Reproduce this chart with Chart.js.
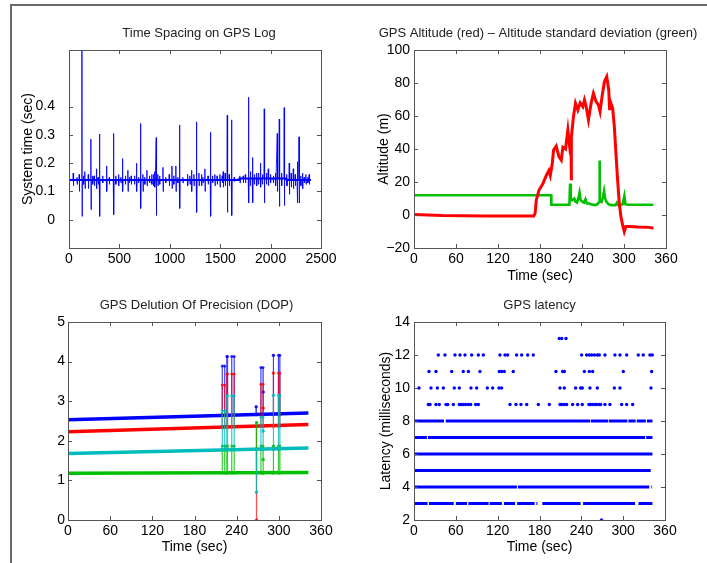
<!DOCTYPE html>
<html>
<head>
<meta charset="utf-8">
<script src="https://cdn.jsdelivr.net/npm/chart.js@4.4.0/dist/chart.umd.min.js"></script>
<style>
  body { margin: 0; background: #fff; }
  #wrap { position: relative; width: 707px; height: 563px; overflow: hidden; }
  #frame { position: absolute; left: 10px; top: 4px; width: 720px; height: 600px;
           border-top: 2px solid #6a6a6a; border-left: 2px solid #6a6a6a; }
  .panel { position: absolute; }
</style>
</head>
<body>
<div id="wrap">
  <div id="frame"></div>
  <div class="panel" style="left:0;top:0;width:353px;height:282px"><canvas id="c1"></canvas></div>
  <div class="panel" style="left:353px;top:0;width:354px;height:285px"><canvas id="c2"></canvas></div>
  <div class="panel" style="left:0;top:282px;width:353px;height:281px"><canvas id="c3"></canvas></div>
  <div class="panel" style="left:353px;top:282px;width:354px;height:281px"><canvas id="c4"></canvas></div>
</div>
<script>
// ---- panel 1: time spacing on GPS log ----
// baseline level of the log spacing (sample index, sec)
const spacingBaseline = [[0, 0.14], [1690, 0.14], [1695, 0.146], [2155, 0.146], [2160, 0.14], [2400, 0.14]];
// spikes: [sample, high, low]
const spacingSpikes = [
  [4, 0.58, 0.01], [43, 0.165, 0.12], [80, 0.15, 0.125], [102, 0.16, 0.10], [129, 0.75, 0.012], [145, 0.155, 0.125],
  [159, 0.17, 0.11], [192, 0.16, 0.11], [218, 0.285, 0.036], [235, 0.155, 0.125], [251, 0.155, 0.12],
  [274, 0.18, 0.11], [290, 0.15, 0.125], [304, 0.303, 0.012], [335, 0.155, 0.13], [374, 0.19, 0.10],
  [400, 0.15, 0.125], [443, 0.305, 0.018], [465, 0.155, 0.125], [493, 0.16, 0.12], [515, 0.15, 0.13],
  [532, 0.216, 0.10], [560, 0.155, 0.125], [585, 0.175, 0.10], [600, 0.15, 0.13], [618, 0.155, 0.125],
  [650, 0.155, 0.125], [671, 0.20, 0.10], [690, 0.15, 0.13], [711, 0.34, 0.04], [734, 0.16, 0.10],
  [752, 0.15, 0.125], [774, 0.175, 0.12], [800, 0.155, 0.13], [822, 0.16, 0.125], [840, 0.16, 0.12],
  [852, 0.17, 0.115], [866, 0.29, 0.015], [882, 0.16, 0.12], [900, 0.155, 0.125], [933, 0.185, 0.10],
  [960, 0.15, 0.13], [995, 0.16, 0.12], [1022, 0.19, 0.11], [1040, 0.155, 0.125], [1061, 0.19, 0.10],
  [1080, 0.15, 0.13], [1098, 0.335, 0.04], [1130, 0.15, 0.13], [1177, 0.16, 0.12], [1200, 0.155, 0.125],
  [1217, 0.175, 0.10], [1240, 0.16, 0.12], [1266, 0.346, 0.026], [1290, 0.165, 0.12], [1316, 0.16, 0.12],
  [1330, 0.15, 0.13], [1349, 0.18, 0.10], [1380, 0.155, 0.125], [1405, 0.309, 0.012], [1425, 0.155, 0.13],
  [1448, 0.16, 0.12], [1470, 0.155, 0.125], [1498, 0.16, 0.115], [1520, 0.155, 0.13], [1531, 0.17, 0.115],
  [1550, 0.165, 0.12], [1571, 0.37, 0.026], [1590, 0.16, 0.12], [1614, 0.353, 0.015], [1640, 0.15, 0.135],
  [1696, 0.155, 0.13], [1729, 0.155, 0.13], [1750, 0.16, 0.13], [1782, 0.433, 0.059], [1800, 0.17, 0.12],
  [1822, 0.22, 0.06], [1840, 0.16, 0.125], [1862, 0.165, 0.12], [1880, 0.165, 0.125], [1901, 0.20, 0.115],
  [1920, 0.16, 0.125], [1938, 0.392, 0.059], [1960, 0.165, 0.125], [1978, 0.18, 0.12], [2000, 0.16, 0.13],
  [2028, 0.155, 0.13], [2050, 0.165, 0.12], [2067, 0.305, 0.10], [2087, 0.356, 0.047], [2110, 0.165, 0.12],
  [2136, 0.396, 0.05], [2160, 0.16, 0.12], [2186, 0.20, 0.09], [2205, 0.165, 0.115], [2226, 0.18, 0.11],
  [2245, 0.16, 0.12], [2266, 0.205, 0.06], [2283, 0.293, 0.059], [2300, 0.155, 0.12], [2318, 0.165, 0.11],
  [2335, 0.15, 0.13], [2351, 0.16, 0.125], [2370, 0.15, 0.13], [2384, 0.16, 0.125]
];

// ---- panel 2: GPS altitude (red) and altitude std deviation (green) ----
const altitude = [
  [0, 0.3], [40, -0.3], [100, -0.6], [171, -0.6], [173, 1], [174.7, 9], [178.5, 15], [184.2, 19], [189, 24],
  [192.7, 27], [194.7, 24], [197.5, 31], [199.4, 39.4], [203.2, 41.8], [207, 35.4], [210.4, 33.3], [212.7, 41],
  [216.5, 40], [219.8, 51.5], [222.2, 42], [224.3, 47], [224.6, 21], [225, 47], [227.8, 59.6], [230.7, 67.7],
  [234, 63.6], [237.4, 68], [241.2, 65.7], [243.5, 69.7], [245.9, 65.7], [249.2, 57.6], [253, 67.7],
  [256.3, 73.7], [260.1, 68.7], [263.4, 66.7], [265.8, 62.6], [268.6, 71.7], [272, 80.8], [275.3, 83.8],
  [278.2, 75.8], [279.5, 63.6], [280.5, 68.7], [283.8, 64.6], [286.2, 53.5], [288.5, 37.4], [290.9, 21],
  [293.3, 7], [295.6, -1], [298, -6], [300.4, -10], [302.7, -7], [307.5, -7], [320, -7.3], [336, -7.5], [342, -8]
];
const altitudeStd = [
  [0, 12], [196, 12], [196.2, 6.2], [222, 6.2], [223, 19], [224, 10], [226, 9], [229, 10], [231, 8],
  [233, 7.5], [235, 10.5], [236.5, 13.5], [238, 9], [241, 8], [243, 7.5], [245, 9.5], [247, 7], [250, 7],
  [253, 6.5], [258, 6], [262, 6.5], [264.5, 8], [265, 33], [265.5, 9], [268, 8], [270, 11], [271.5, 14.5],
  [273, 10], [275, 8], [278, 6.5], [282, 6], [288, 6], [290, 7.5], [292, 6], [298, 6.5], [300.5, 11.5],
  [302, 6.5], [305, 6.2], [342, 6.2]
];

// ---- panel 3: DOP, four traces: trend line + spikes [start, end, value] ----
const dopBlueLine = [[0, 2.53], [342, 2.70]];
const dopRedLine = [[0, 2.23], [342, 2.41]];
const dopCyanLine = [[0, 1.68], [342, 1.82]];
const dopGreenLine = [[0, 1.18], [342, 1.20]];
const dopBlueSpikes = [[219.5, 223, 3.89], [226, 227, 4.13], [233, 236.5, 4.13], [267.5, 268, 2.86],
  [274.5, 277.5, 3.85], [277.5, 278, 3.23], [292, 292.5, 4.16], [299.5, 301.5, 4.16]];
const dopRedSpikes = [[219.5, 223, 3.41], [226, 227, 3.69], [233, 236.5, 3.69], [268, 268.4, 0],
  [274.5, 277.5, 3.43], [277.5, 278, 2.83], [292, 292.5, 3.71], [299.5, 301.5, 3.71]];
const dopCyanSpikes = [[219.5, 223, 2.76], [226, 227, 3.14], [233, 236.5, 3.14], [268, 268.4, 0.70],
  [274.5, 277.5, 2.6], [277.5, 278, 2.25], [292, 292.5, 3.15], [299.5, 301.5, 3.15]];
const dopGreenSpikes = [[219.5, 223, 1.87], [226, 227, 1.87], [233, 236.5, 1.87], [268, 268.4, 2.46],
  [274.5, 277.5, 1.87], [277.5, 278, 1.53], [292, 292.5, 1.87], [299.5, 301.5, 1.87]];
// where the spikes leave each trend line
const dopSpikeBase = { blue: 2.66, red: 2.37, cyan: 1.78, green: 1.19 };

// ---- panel 4: GPS latency (ms) ----
// dense rows: level -> runs of samples [from, to] (sec)
const latencyRows = [
  [8, [[0, 43], [45.5, 252.5], [253.5, 278.5], [279.5, 306], [307.5, 318], [319.5, 332.5], [334, 342]]],
  [7, [[0, 18.5], [20, 331.5], [333, 342]]],
  [6, [[0, 342]]],
  [5, [[0, 339.5]]],
  [4, [[0, 147.5], [149, 337.5], [340.5, 341.5]]],
  [3, [[0, 19.5], [21.5, 57], [60, 76], [78, 107], [108.5, 126], [129, 145], [148, 173], [175.5, 177],
       [184, 239], [242.5, 317], [322, 342]]]
];
// sparse samples (sec) at the higher / lower levels
const latency9 = [20.6, 23, 31.5, 36.3, 45.9, 48.3, 56.4, 65, 67.4, 70.7, 74, 77.9, 81.3, 88.4, 92.3, 137.7,
  146.3, 153.4, 161.6, 178.3, 194.1, 209.4, 211.8, 215.6, 218.9, 227.5, 234.7, 241.4, 250.9, 253.3, 256.2,
  259.5, 261.9, 265.8, 267.7, 273.9, 281, 297.8, 305, 313.6];
const latency10 = [7.2, 24.4, 33.5, 42.1, 57.8, 65, 81.7, 89.9, 105.2, 112.8, 121.9, 125.7, 209.4, 215.6,
  231.8, 239, 241.4, 252.4, 262.9, 287.3, 295.4, 339.9];
const latency11 = [21.5, 31.5, 54, 70.7, 78, 94.6, 122.4, 125.7, 129.5, 142.4, 203.6, 213.2, 215.6, 244.3,
  251.5, 256.2, 300.2, 340.8];
const latency12 = [34.9, 44.4, 58.8, 66, 73.2, 82.7, 92.3, 99.4, 123.3, 130.5, 134.3, 147.2, 154.4, 163, 171.1,
  240.4, 247.6, 251.5, 254.8, 258.7, 263, 265.8, 273.9, 288.2, 295.4, 305, 321.7, 328.8, 338.4, 341.8];
const latency13 = [208.4, 211.8, 218];
const latency2 = [269];

const FONT = "'Liberation Sans', Arial, Helvetica, sans-serif";
Chart.defaults.font.family = FONT;
Chart.defaults.color = '#000';
Chart.defaults.animation = false;

const BLUE = '#0000ff', RED = '#ff0000', CYAN = '#00bcbc', GREEN = '#00c000';

// matlab style box with inward ticks on all four sides, title above the box
const boxPlugin = {
  id: 'matlabBox',
  afterDatasetsDraw(chart, args, opts) {
    const { ctx, chartArea: a, scales } = chart;
    ctx.save();
    ctx.strokeStyle = '#555';
    ctx.lineWidth = 1;
    ctx.beginPath();
    scales.x.ticks.forEach((t, i) => {
      if (t.label === '') return;
      const px = Math.round(scales.x.getPixelForTick(i)) + 0.5;
      ctx.moveTo(px, a.bottom); ctx.lineTo(px, a.bottom - 4);
      ctx.moveTo(px, a.top); ctx.lineTo(px, a.top + 4);
    });
    scales.y.ticks.forEach((t, i) => {
      if (t.label === '') return;
      const py = Math.round(scales.y.getPixelForTick(i)) + 0.5;
      ctx.moveTo(a.left, py); ctx.lineTo(a.left + 4, py);
      ctx.moveTo(a.right, py); ctx.lineTo(a.right - 4, py);
    });
    ctx.stroke();
    ctx.strokeRect(Math.round(a.left) + 0.5, Math.round(a.top) + 0.5, Math.round(a.width), Math.round(a.height));
    if (opts.title) {
      ctx.fillStyle = '#222';
      ctx.font = '13px ' + FONT;
      ctx.textAlign = 'center';
      ctx.textBaseline = 'middle';
      ctx.fillText(opts.title, (a.left + a.right) / 2 + (opts.shift || 0), a.top - 17);
    }
    ctx.restore();
  }
};

function scaleX(min, max, step, height, title, titlePad) {
  return {
    type: 'linear', min: min, max: max,
    ticks: { stepSize: step, autoSkip: false, maxRotation: 0, padding: 3, color: '#000', font: { size: 14 },
             callback: v => String(v) },
    grid: { display: false, drawTicks: false },
    border: { display: false },
    title: title ? { display: true, text: title, color: '#000', font: { size: 14 }, padding: { top: 0, bottom: titlePad } }
                 : { display: false },
    afterFit: s => { s.height = height; }
  };
}

function scaleY(min, max, step, width, pad, title, titlePad, cb) {
  return {
    type: 'linear', min: min, max: max,
    ticks: { stepSize: step, autoSkip: false, padding: pad, color: '#000', font: { size: 14 },
             callback: cb || (v => String(v)) },
    grid: { display: false, drawTicks: false },
    border: { display: false },
    title: title ? { display: true, text: title, color: '#000', font: { size: 14 }, padding: { top: titlePad, bottom: 0 } }
                 : { display: false },
    afterFit: s => { s.width = width; }
  };
}

function makeChart(id, datasets, title, padding, scales) {
  return new Chart(document.getElementById(id), {
    type: 'scatter',
    data: { datasets: datasets },
    options: {
      responsive: true,
      maintainAspectRatio: false,
      layout: { padding: padding },
      plugins: { legend: { display: false }, tooltip: { enabled: false }, matlabBox: title },
      scales: scales
    },
    plugins: [boxPlugin]
  });
}

const toXY = arr => arr.map(p => ({ x: p[0], y: p[1] }));
const lineSet = (pts, color, width) => ({
  data: pts, showLine: true, borderColor: color, backgroundColor: color,
  borderWidth: width, pointRadius: 0, tension: 0
});

// panel 1
const spacingPts = [];
spacingSpikes.forEach(([x, hi, lo]) => {
  const b = (x > 1690 && x < 2160) ? 0.146 : 0.14;
  spacingPts.push({ x: x - 4, y: b }, { x: x - 1, y: hi }, { x: x + 1, y: lo }, { x: x + 4, y: b });
});
makeChart('c1', [
  lineSet(spacingPts, 'rgba(0,0,255,0.85)', 1),
  lineSet(toXY(spacingBaseline), BLUE, 2)
], { title: 'Time Spacing on GPS Log', shift: 4 },
  { left: 0, right: 32, top: 50, bottom: 0 },
  {
    x: scaleX(0, 2500, 500, 34),
    y: scaleY(-0.1, 0.6, 0.1, 69, 14, 'System time (sec)', 20, v => {
      const r = Math.round(v * 10) / 10;
      return (r >= 0 && r <= 0.4) ? String(r) : '';
    })
  });

// panel 2
const minus = v => v < 0 ? '\u2212' + Math.abs(v) : String(v);
makeChart('c2', [
  lineSet(toXY(altitude), RED, 3),
  lineSet(toXY(altitudeStd), GREEN, 2.6)
], { title: 'GPS Altitude (red) \u2013 Altitude standard deviation (green)', shift: -2 },
  { left: 0, right: 41, top: 50, bottom: 0 },
  {
    x: scaleX(0, 360, 60, 37, 'Time (sec)', 0),
    y: scaleY(-20, 100, 20, 61, 4, 'Altitude (m)', 23, minus)
  });

// panel 3
function spikePts(groups, base) {
  const pts = [];
  groups.forEach(([a, b, v]) => {
    pts.push({ x: a, y: base }, { x: a, y: v }, { x: b, y: v }, { x: b, y: base });
  });
  return pts;
}
const spikeSet = (pts, color) => ({
  data: pts, showLine: true, borderColor: color, backgroundColor: color,
  borderWidth: 1.2, pointRadius: 1.5, pointBorderWidth: 0, tension: 0
});
makeChart('c3', [
  spikeSet(spikePts(dopCyanSpikes, dopSpikeBase.cyan), 'rgba(0,188,188,0.8)'),
  spikeSet(spikePts(dopGreenSpikes, dopSpikeBase.green), 'rgba(0,192,0,0.8)'),
  spikeSet(spikePts(dopRedSpikes, dopSpikeBase.red), 'rgba(255,0,0,0.7)'),
  spikeSet(spikePts(dopBlueSpikes, dopSpikeBase.blue), 'rgba(0,0,255,0.75)'),
  lineSet(toXY(dopBlueLine), BLUE, 3.5),
  lineSet(toXY(dopRedLine), RED, 3.5),
  lineSet(toXY(dopCyanLine), CYAN, 3.5),
  lineSet(toXY(dopGreenLine), GREEN, 3.5)
], { title: 'GPS Delution Of Precision (DOP)', shift: 2 },
  { left: 0, right: 32, top: 40, bottom: 0 },
  {
    x: scaleX(0, 360, 60, 43, 'Time (sec)', 7),
    y: scaleY(0, 5, 1, 68, 3)
  });

// panel 4
const latencySets = latencyRows.map(([level, runs]) => {
  const pts = [];
  runs.forEach(([a, b]) => { pts.push({ x: a, y: level }, { x: b, y: level }, { x: b, y: null }); });
  return Object.assign(lineSet(pts, BLUE, 3), { spanGaps: false });
});
const dots = (times, level) => ({
  data: times.map(t => ({ x: t, y: level })), backgroundColor: BLUE, borderWidth: 0, pointRadius: 1.7
});
makeChart('c4', latencySets.concat([
  dots(latency9, 9), dots(latency10, 10), dots(latency11, 11), dots(latency12, 12), dots(latency13, 13), dots(latency2, 2)
]), { title: 'GPS latency' },
  { left: 0, right: 42, top: 40, bottom: 0 },
  {
    x: scaleX(0, 360, 60, 43, 'Time (sec)', 7),
    y: scaleY(2, 14, 2, 61, 4, 'Latency (milliseconds)', 25)
  });
</script>
</body>
</html>
